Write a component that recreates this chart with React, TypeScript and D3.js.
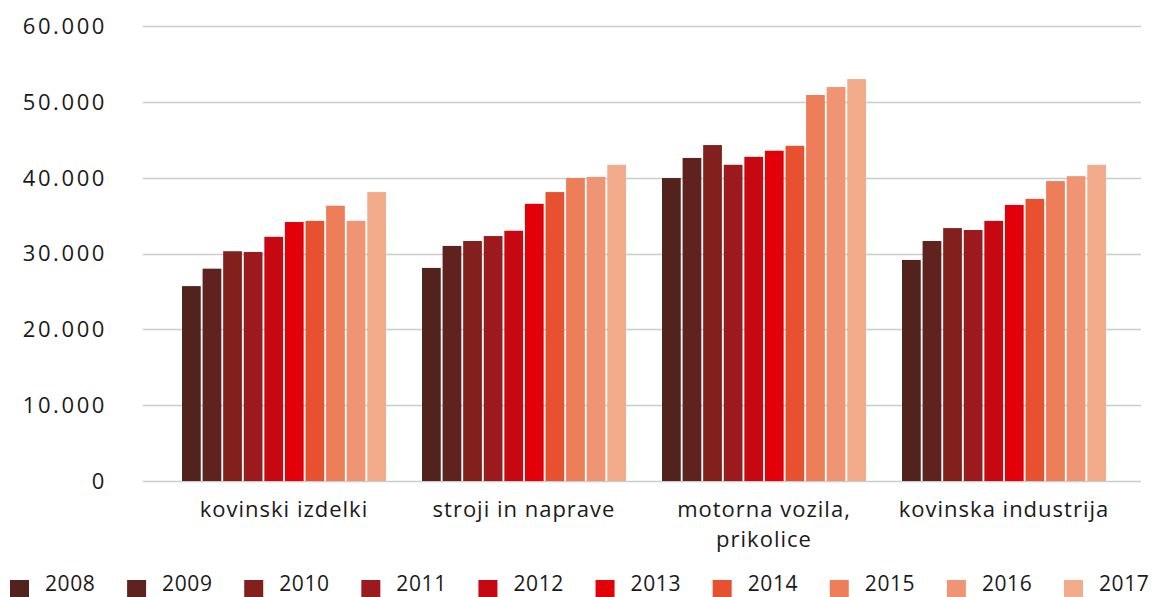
import React, { useEffect, useRef } from "react";
import * as d3 from "d3";

const categories = [
  ["kovinski izdelki"],
  ["stroji in naprave"],
  ["motorna vozila,", "prikolice"],
  ["kovinska industrija"],
];
const years = ["2008", "2009", "2010", "2011", "2012", "2013", "2014", "2015", "2016", "2017"];
// one row per category, one value per year
const values = [
  [25700, 28000, 30300, 30200, 32200, 34150, 34300, 36300, 34300, 38100],
  [28100, 31000, 31650, 32300, 33000, 36550, 38100, 39950, 40100, 41700],
  [39950, 42600, 44300, 41700, 42750, 43550, 44200, 50900, 51950, 53000],
  [29150, 31650, 33350, 33100, 34300, 36400, 37200, 39550, 40200, 41700],
];
const yTicks = [0, 10000, 20000, 30000, 40000, 50000, 60000];
const colors = [
  "#52231c", "#5e231f", "#82201d", "#9c1a1d", "#c70812",
  "#e30008", "#e85130", "#ed7e59", "#f09573", "#f2ac8c",
];

const W = 1156;
const H = 597;
const FONT = "'Open Sans', sans-serif";

const App = () => {
  const ref = useRef<SVGSVGElement>(null);

  useEffect(() => {
    const svg = d3.select(ref.current);
    svg.selectAll("*").remove();

    const y = d3.scaleLinear().domain([0, 60000]).range([481, 26]);
    const x0 = d3
      .scaleBand<number>()
      .domain(d3.range(categories.length))
      .range([164, 1124])
      .paddingInner(0.15)
      .paddingOuter(0.075);
    const x1 = d3
      .scaleBand<string>()
      .domain(years)
      .range([0, x0.bandwidth()])
      .paddingInner(0.09);

    // gridlines
    svg
      .append("g")
      .selectAll("line")
      .data(yTicks)
      .join("line")
      .attr("x1", 143)
      .attr("x2", 1141)
      .attr("y1", d => Math.round(y(d)) + 0.5)
      .attr("y2", d => Math.round(y(d)) + 0.5)
      .attr("stroke", "#cccccc")
      .attr("stroke-width", 1.5);

    // y labels
    const fmt = (d: number) => d3.format(",")(d).replace(/,/g, ".");
    svg
      .append("g")
      .selectAll("text")
      .data(yTicks)
      .join("text")
      .attr("x", 107)
      .attr("y", d => y(d))
      .attr("dy", "0.36em")
      .attr("text-anchor", "end")
      .attr("font-family", FONT)
      .attr("font-size", 22)
      .attr("letter-spacing", 2.6)
      .attr("fill", "#1a1a1a")
      .text(d => fmt(d));

    // bars
    const groups = svg
      .append("g")
      .selectAll("g")
      .data(values)
      .join("g")
      .attr("transform", (_, i) => `translate(${x0(i)},0)`);
    groups
      .selectAll("rect")
      .data(d => d.map((v, j) => ({ v, year: years[j], j })))
      .join("rect")
      .attr("x", d => x1(d.year)!)
      .attr("width", x1.bandwidth())
      .attr("y", d => y(d.v))
      .attr("height", d => y(0) - y(d.v))
      .attr("fill", d => colors[d.j]);

    // category labels
    const cat = svg
      .append("g")
      .selectAll("text")
      .data(categories)
      .join("text")
      .attr("x", (_, i) => x0(i)! + x0.bandwidth() / 2)
      .attr("y", 517)
      .attr("text-anchor", "middle")
      .attr("font-family", FONT)
      .attr("font-size", 22)
      .attr("letter-spacing", 1)
      .attr("fill", "#1a1a1a");
    cat
      .selectAll("tspan")
      .data((d, i) => d.map(t => ({ t, i })))
      .join("tspan")
      .attr("x", d => x0(d.i)! + x0.bandwidth() / 2)
      .attr("dy", (_, k) => (k === 0 ? 0 : 30))
      .text(d => d.t);

    // legend
    const leg = d3.scalePoint<string>().domain(years).range([10, 1064]);
    const li = svg
      .append("g")
      .selectAll("g")
      .data(years)
      .join("g")
      .attr("transform", d => `translate(${leg(d)},0)`);
    li.append("rect")
      .attr("y", 580)
      .attr("width", 19)
      .attr("height", 17)
      .attr("fill", (_, i) => colors[i]);
    li.append("text")
      .attr("x", 35)
      .attr("y", 591)
      .attr("font-family", FONT)
      .attr("font-size", 21)
      .attr("letter-spacing", 0.6)
      .attr("fill", "#1a1a1a")
      .text(d => d);
  }, []);

  return (
    <svg
      ref={ref}
      width={W}
      height={H}
      style={{ position: "absolute", left: 0, top: 0, background: "#fff" }}
    ></svg>
  );
};

export default App;
